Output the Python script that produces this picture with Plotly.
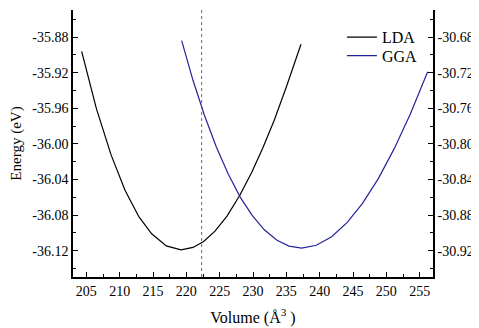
import plotly.graph_objects as go

# LDA (left axis)
lda_volume = [204.3, 206.5, 208.7, 210.8, 212.9, 214.8, 217.0, 219.2, 221.0, 222.6,
              224.3, 226.1, 228.0, 229.8, 231.5, 233.2, 235.0, 237.2]
lda_energy = [-35.896, -35.960, -36.012, -36.052, -36.082, -36.101, -36.1145, -36.119,
              -36.1163, -36.1095, -36.098, -36.081, -36.058, -36.032, -36.004, -35.973,
              -35.936, -35.888]

# GGA (right axis)
gga_volume = [219.3, 221.0, 222.7, 224.5, 226.3, 228.1, 229.9, 231.7, 233.6, 235.4,
              237.3, 239.5, 241.8, 244.1, 246.4, 248.8, 251.2, 253.6, 256.2]
gga_energy = [-30.684, -30.7285, -30.7675, -30.8035, -30.834, -30.860, -30.8806, -30.8965,
              -30.9083, -30.9148, -30.917, -30.9138, -30.9042, -30.8885, -30.867, -30.839,
              -30.805, -30.7664, -30.719]

marker_volume = 222.3

x_ticks = [205, 210, 215, 220, 225, 230, 235, 240, 245, 250, 255]
y_left_ticks = [-35.88, -35.92, -35.96, -36.00, -36.04, -36.08, -36.12]
y_right_ticks = [-30.68, -30.72, -30.76, -30.80, -30.84, -30.88, -30.92]

FONT = "Times New Roman, Liberation Serif, Times, serif"


def serif_label(text):
    return '<span style="font-family:Liberation Serif,Times New Roman,serif">' + text + "</span>"


fig = go.Figure()
fig.add_trace(go.Scatter(x=lda_volume, y=lda_energy, mode="lines", name="LDA",
                         line=dict(color="#000000", width=1.2), xaxis="x", yaxis="y",
                         legend="legend"))
fig.add_trace(go.Scatter(x=gga_volume, y=gga_energy, mode="lines", name="GGA",
                         line=dict(color="#24249a", width=1.2), xaxis="x", yaxis="y2",
                         legend="legend2"))

fig.add_shape(type="line", xref="x", yref="paper", x0=marker_volume, x1=marker_volume,
              y0=0, y1=1, line=dict(color="#555555", width=0.9, dash="3px,3px"))


def axis_common():
    return dict(showline=True, linecolor="black", linewidth=1.5, ticks="inside",
                ticklen=5, tickwidth=1.2, tickcolor="black", showgrid=False,
                zeroline=False, automargin=False,
                tickfont=dict(family=FONT, size=14, color="black"))


def minor_x():
    return dict(ticks="inside", ticklen=3, tickcolor="black", tickwidth=1, dtick=2.5, tick0=202.5)


# page body has an 8px margin, so the figure is 8px smaller than the window
fig.update_layout(
    width=471, height=320,
    margin=dict(l=65, r=46, t=2, b=51),
    paper_bgcolor="white", plot_bgcolor="white",
    font=dict(family=FONT, color="black", size=14),
    xaxis=dict(range=[203, 257], tickmode="array", tickvals=x_ticks,
               ticktext=[serif_label(str(v)) for v in x_ticks], minor=minor_x(),
               title=dict(text="Volume (Å<sup>3</sup> )", font=dict(family=FONT, size=16), standoff=14),
               **axis_common()),
    xaxis2=dict(range=[203, 257], overlaying="x", side="top", tickmode="array",
                tickvals=x_ticks, showticklabels=False, minor=minor_x(), **axis_common()),
    yaxis=dict(range=[-36.1495, -35.8495], tickmode="array", tickvals=y_left_ticks,
               ticktext=[serif_label("%.2f" % v) for v in y_left_ticks],
               minor=dict(ticks="inside", ticklen=3, tickcolor="black", tickwidth=1, dtick=0.02, tick0=-35.86),
               title=dict(text="Energy (eV)", font=dict(family=FONT, size=15), standoff=10),
               **axis_common()),
    yaxis2=dict(range=[-30.9495, -30.6495], overlaying="y", side="right", tickmode="array",
                tickvals=y_right_ticks, ticktext=[serif_label("%.2f" % v) for v in y_right_ticks],
                minor=dict(ticks="inside", ticklen=3, tickcolor="black", tickwidth=1, dtick=0.02, tick0=-30.66),
                **axis_common()),
    showlegend=True,
    legend=dict(x=0.747, y=0.9614, xanchor="left", yanchor="top", bgcolor="rgba(0,0,0,0)",
                font=dict(family=FONT, size=16, color="black")),
    legend2=dict(x=0.747, y=0.8925, xanchor="left", yanchor="top", bgcolor="rgba(0,0,0,0)",
                 font=dict(family=FONT, size=16, color="black")),
)

fig.write_html("out.html")
